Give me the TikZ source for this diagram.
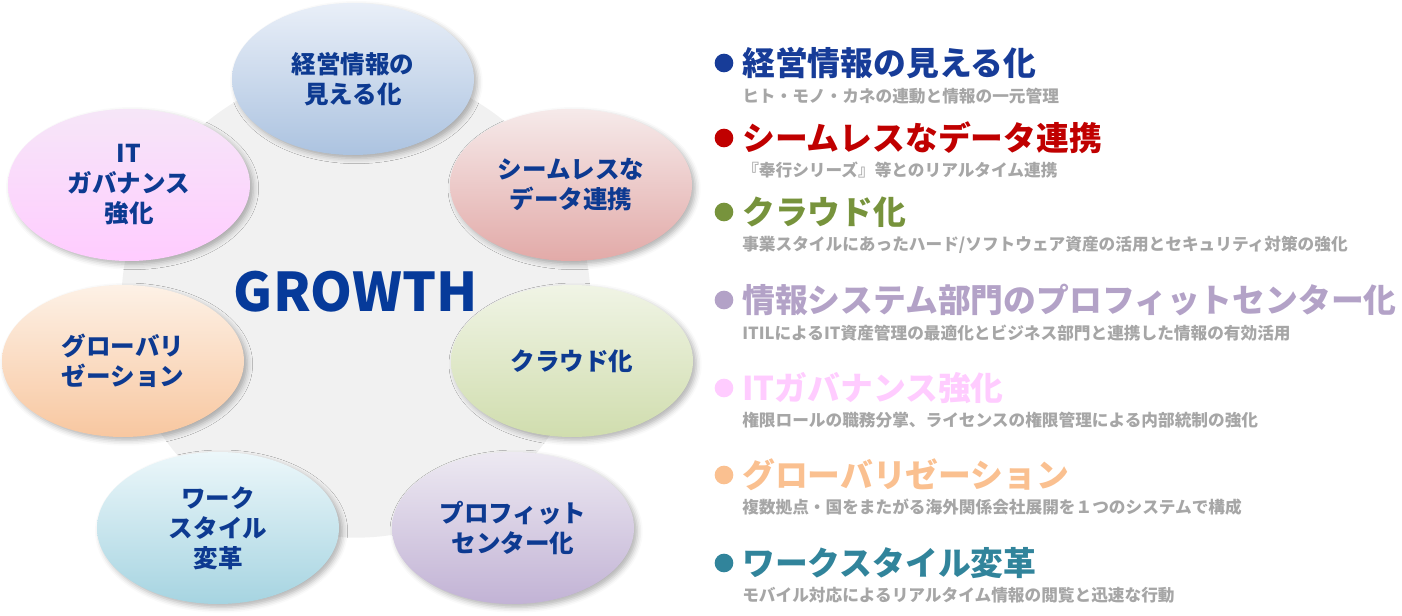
\documentclass[tikz,border=0pt]{standalone}
\usepackage{fontspec}
\setmainfont{Noto Sans CJK JP}
\usetikzlibrary{shapes.geometric, shadows.blur}

\definecolor{bubbletext}{HTML}{0D3A91}
\definecolor{growthblue}{HTML}{063A9A}
\definecolor{ringgray}{HTML}{F1F1F1}
\definecolor{subgray}{HTML}{A6A6A6}
\definecolor{headblue}{HTML}{173C98}
\definecolor{headred}{HTML}{C00000}
\definecolor{headgreen}{HTML}{77933C}
\definecolor{headpurple}{HTML}{B3A2C7}
\definecolor{headpink}{HTML}{FFCCFF}
\definecolor{headorange}{HTML}{FAC090}
\definecolor{headteal}{HTML}{31849B}

\tikzset{
    bubble/.style={ellipse, minimum width=181.5pt, minimum height=114pt, inner sep=0pt,
        align=center, text=bubbletext, font=\fontsize{18.4}{22.5}\selectfont\bfseries,
        blur shadow={shadow xshift=2.5pt, shadow yshift=-2.5pt, shadow blur radius=4pt, shadow opacity=30}},
    headline/.style={anchor=west, inner sep=0pt, font=\fontsize{24.6}{26}\selectfont\bfseries},
    subline/.style={anchor=west, inner sep=0pt, text=subgray, font=\fontsize{12.5}{14}\selectfont\bfseries},
}

\begin{document}
\begin{tikzpicture}[x=0.75pt, y=-0.75pt]
    % 1. Page frame
    \useasboundingbox (0, 0) rectangle (1402, 616);

    % 2. Gray disc behind the bubbles
    \fill[ringgray] (356, 303) circle (176pt);

    % 3. Seven bubbles round the disc
    \node[bubble, top color={rgb,255:red,233;green,239;blue,248}, bottom color={rgb,255:red,172;green,195;blue,224}] (mieru) at (353, 79) {経営情報の\\見える化};
    \node[bubble, top color={rgb,255:red,246;green,234;blue,234}, bottom color={rgb,255:red,226;green,170;blue,168}] (seamless) at (571, 185) {シームレスな\\データ連携};
    \node[bubble, top color={rgb,255:red,240;green,244;blue,229}, bottom color={rgb,255:red,208;green,221;blue,174}] (cloud) at (572, 361) {クラウド化};
    \node[bubble, top color={rgb,255:red,237;green,233;blue,242}, bottom color={rgb,255:red,194;green,179;blue,213}] (profit) at (513, 528) {プロフィット\\センター化};
    \node[bubble, top color={rgb,255:red,236;green,247;blue,250}, bottom color={rgb,255:red,166;green,212;blue,225}] (work) at (218, 528) {ワーク\\スタイル\\変革};
    \node[bubble, top color={rgb,255:red,253;green,241;blue,230}, bottom color={rgb,255:red,248;green,199;blue,160}] (global) at (123, 361) {グローバリ\\ゼーション};
    \node[bubble, top color={rgb,255:red,246;green,230;blue,248}, bottom color={rgb,255:red,255;green,204;blue,255}] (govern) at (129, 185) {IT\\ガバナンス\\強化};

    % 4. Title in the middle
    \node[growthblue, font=\fontsize{40}{42}\selectfont\bfseries] (growth) at (356, 292) {GROWTH};

    % 5. List on the right
    \fill[headblue] (724, 63) circle (7pt);
    \node[headline, headblue] (h1) at (742, 63) {経営情報の見える化};
    \node[subline] (s1) at (742, 96) {ヒト・モノ・カネの連動と情報の一元管理};

    \fill[headred] (724, 138) circle (7pt);
    \node[headline, headred] (h2) at (742, 138) {シームレスなデータ連携};
    \node[subline] (s2) at (742, 170) {『奉行シリーズ』等とのリアルタイム連携};

    \fill[headgreen] (724, 212) circle (7pt);
    \node[headline, headgreen] (h3) at (742, 212) {クラウド化};
    \node[subline] (s3) at (742, 245) {事業スタイルにあったハード/ソフトウェア資産の活用とセキュリティ対策の強化};

    \fill[headpurple] (724, 300) circle (7pt);
    \node[headline, headpurple] (h4) at (742, 300) {情報システム部門のプロフィットセンター化};
    \node[subline] (s4) at (742, 333) {ITILによるIT資産管理の最適化とビジネス部門と連携した情報の有効活用};

    \fill[headpink] (724, 388) circle (7pt);
    \node[headline, headpink] (h5) at (742, 388) {ITガバナンス強化};
    \node[subline] (s5) at (742, 420) {権限ロールの職務分掌、ライセンスの権限管理による内部統制の強化};

    \fill[headorange] (724, 475) circle (7pt);
    \node[headline, headorange] (h6) at (742, 475) {グローバリゼーション};
    \node[subline] (s6) at (742, 507) {複数拠点・国をまたがる海外関係会社展開を１つのシステムで構成};

    \fill[headteal] (724, 563) circle (7pt);
    \node[headline, headteal] (h7) at (742, 563) {ワークスタイル変革};
    \node[subline] (s7) at (742, 595) {モバイル対応によるリアルタイム情報の閲覧と迅速な行動};
\end{tikzpicture}
\end{document}
